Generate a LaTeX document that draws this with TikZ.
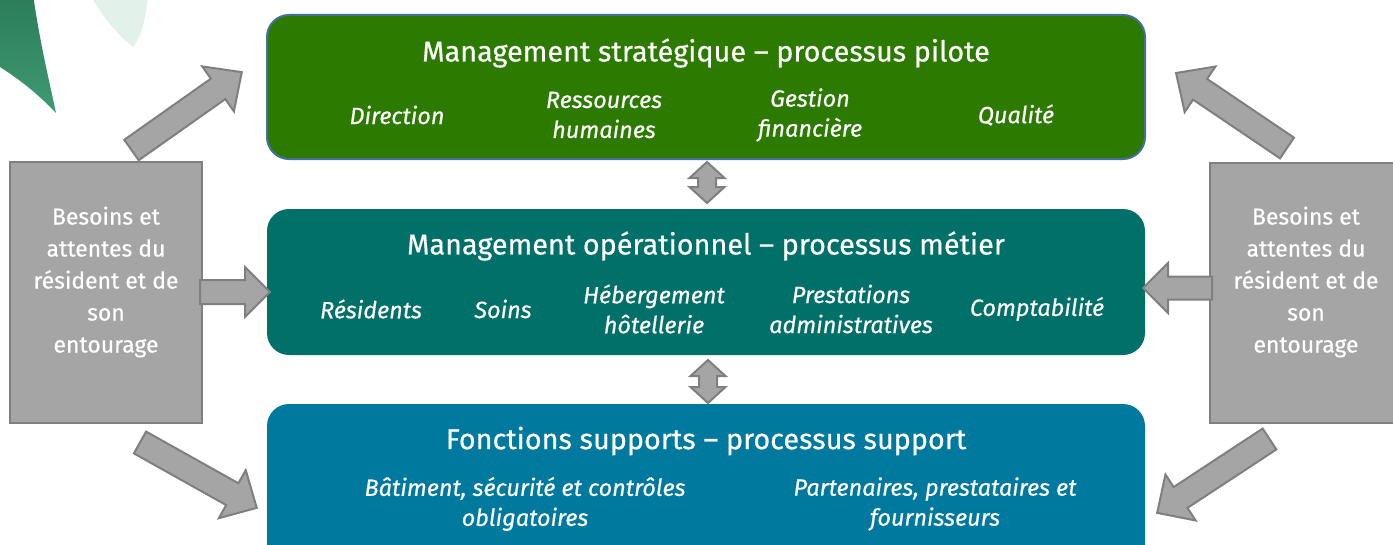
\documentclass[tikz,border=0pt]{standalone}
\usepackage{fontspec}
\setmainfont{Fira Sans}[FakeBold=0.5]
\usetikzlibrary{calc}

\definecolor{pilot}{HTML}{2C7A00}
\definecolor{pilotedge}{HTML}{41719C}
\definecolor{metier}{HTML}{007068}
\definecolor{support}{HTML}{00799F}
\definecolor{greyfill}{HTML}{A5A5A5}
\definecolor{greyedge}{HTML}{7F7F7F}
\definecolor{leafdark}{HTML}{2A7D58}
\definecolor{leafmid}{HTML}{3F9A72}
\definecolor{leafpale}{HTML}{E2F2EA}

\tikzset{
  procbox/.style={rounded corners=16.5pt, minimum width=658.5pt, inner sep=0pt},
  proctitle/.style={text=white, font=\fontsize{21.6}{25}\selectfont, inner sep=0pt},
  procitem/.style={text=white, align=center, inner sep=0pt,
    font=\fontsize{17.6}{22.5}\selectfont\itshape},
  needbox/.style={fill=greyfill, draw=greyedge, line width=1.5pt, inner sep=0pt,
    minimum width=144pt, minimum height=195.75pt},
  needtext/.style={text=white, align=center, inner sep=0pt,
    font=\fontsize{17.2}{24}\selectfont},
  arrowshape/.style={fill=greyfill, draw=greyedge, line width=1.5pt, line join=miter},
}

% block arrow from a tail coordinate to a tip coordinate
% #3 shaft width, #4 head width, #5 head length (all in px units)
\newcommand{\blockarrow}[5]{%
  \path let \p1=($(#2)-(#1)$) in \pgfextra{%
    \pgfmathparse{atan2(\y1,\x1)}\xdef\barang{\pgfmathresult}%
    \pgfmathparse{veclen(\x1,\y1)/0.75}\xdef\barlen{\pgfmathresult}};
  \begin{scope}[shift={(#1)}, rotate=\barang]
    \draw[arrowshape] (0,-#3/2) -- (\barlen-#5,-#3/2) -- (\barlen-#5,-#4/2)
      -- (\barlen,0) -- (\barlen-#5,#4/2) -- (\barlen-#5,#3/2) -- (0,#3/2) -- cycle;
  \end{scope}}

% vertical double-headed arrow starting at its top tip; #2 = shaft length
\newcommand{\dblarrow}[2]{%
  \draw[arrowshape] (#1) -- ++(17.5,-16) -- ++(-8.5,0) -- ++(0,-#2) -- ++(8.5,0)
    -- ++(-17.5,-16) -- ++(-17.5,16) -- ++(8.5,0) -- ++(0,#2) -- ++(-8.5,0) -- cycle;}

\begin{document}
\begin{tikzpicture}[x=0.75pt, y=0.75pt]
\useasboundingbox (0,0) rectangle (1393,544);
\clip (0,0) rectangle (1393,544);

% watercolour leaves in the corner
\shade[top color=leafdark, bottom color=leafmid]
  (-5,550) -- (33,550) .. controls (40,500) and (50,460) .. (56,431)
  .. controls (40,448) and (20,465) .. (-5,480) -- cycle;
\fill[leafpale] (90,550) -- (148,550) .. controls (146,522) and (140,506) .. (133,497)
  .. controls (115,512) and (100,530) .. (90,550) -- cycle;

% process layers
\node[procbox, fill=pilot, draw=pilotedge, line width=1.5pt, minimum height=108pt]
  (pilot) at (706,457) {};
\node[procbox, fill=metier, minimum height=109.5pt] (metier) at (706,262) {};
\node[procbox, fill=support, minimum height=127.5pt] (support) at (706,55) {};

\node[proctitle] (pilotT) at (706,491) {Management stratégique – processus pilote};
\node[procitem] (p1) at (397,429) {Direction};
\node[procitem] (p2) at (604,429) {Ressources\\humaines};
\node[procitem] (p3) at (810,429) {Gestion\\financière};
\node[procitem] (p4) at (1016,429) {Qualité};

\node[proctitle] (metierT) at (706,298) {Management opérationnel – processus métier};
\node[procitem] (m1) at (371,235) {Résidents};
\node[procitem] (m2) at (503,235) {Soins};
\node[procitem] (m3) at (654,235) {Hébergement\\hôtellerie};
\node[procitem] (m4) at (851,235) {Prestations\\administratives};
\node[procitem] (m5) at (1037,235) {Comptabilité};

\node[proctitle] (supportT) at (706,103) {Fonctions supports – processus support};
\node[procitem] (s1) at (525,40) {Bâtiment, sécurité et contrôles\\obligatoires};
\node[procitem] (s2) at (935,40) {Partenaires, prestataires et\\fournisseurs};

% residents' needs on both sides
\node[needbox] (needL) at (106,251.5) {};
\node[needbox, minimum width=146.25pt, minimum height=195pt] (needR) at (1307.5,251) {};
\node[needtext] (needLT) at (106,262) {Besoins et\\attentes du\\résident et de\\son\\entourage};
\node[needtext] (needRT) at (1306,262) {Besoins et\\attentes du\\résident et de\\son\\entourage};

% arrow anchors
\coordinate (a1s) at (131.5,394);   \coordinate (a1e) at (242,472);
\coordinate (a2s) at (200,252);     \coordinate (a2e) at (270,252);
\coordinate (a3s) at (140,101.5);   \coordinate (a3e) at (257,36);
\coordinate (a4s) at (1287,396);    \coordinate (a4e) at (1176,471);
\coordinate (a5s) at (1212,256);    \coordinate (a5e) at (1143,256);
\coordinate (a6s) at (1269.5,105);  \coordinate (a6e) at (1157,31);

\blockarrow{a1s}{a1e}{25}{55}{29}
\blockarrow{a2s}{a2e}{24}{50}{25}
\blockarrow{a3s}{a3e}{25}{55}{28}
\blockarrow{a4s}{a4e}{25}{55}{29}
\blockarrow{a5s}{a5e}{23}{50}{25}
\blockarrow{a6s}{a6e}{25}{55}{28}

% links between the layers
\coordinate (d1) at (707,382);
\coordinate (d2) at (708,184);
\dblarrow{d1}{9}
\dblarrow{d2}{11}
\end{tikzpicture}
\end{document}
